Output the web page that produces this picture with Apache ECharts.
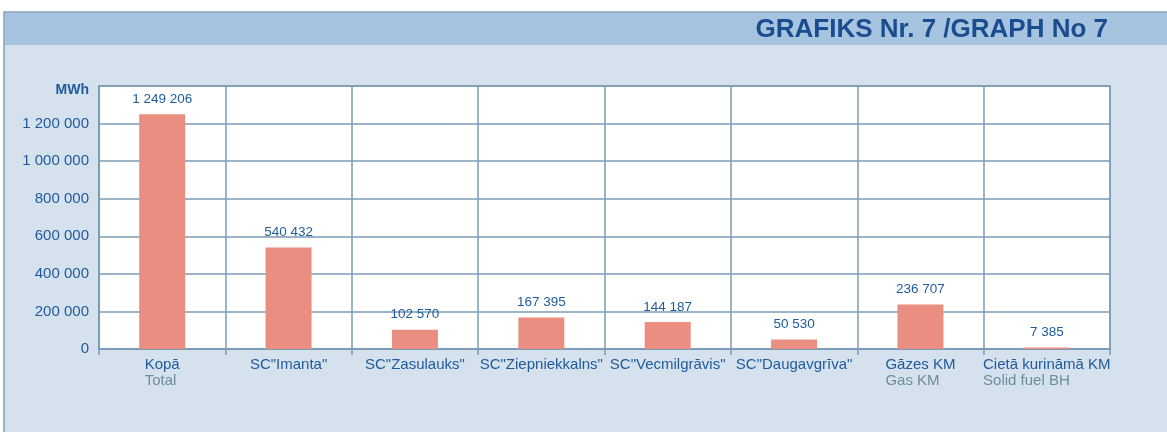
<!DOCTYPE html>
<html>
<head>
<meta charset="utf-8">
<script src="https://cdn.jsdelivr.net/npm/echarts@6/dist/echarts.min.js"></script>
<style>
    html, body {margin: 0; padding: 0; background: #fff;}
    #chart {width: 1167px; height: 432px;}
</style>
</head>
<body>
<div id="chart"></div>
<script>
// kategorijas (LV / EN)
var namesLv = ['Kopā', 'SC"Imanta"', 'SC"Zasulauks"', 'SC"Ziepniekkalns"', 'SC"Vecmilgrāvis"', 'SC"Daugavgrīva"', 'Gāzes KM', 'Cietā kurināmā KM'];
var namesEn = ['Total', '', '', '', '', '', 'Gas KM', 'Solid fuel BH'];
var valuesMWh = [1249206, 540432, 102570, 167395, 144187, 50530, 236707, 7385];
var yTicks = [0, 200000, 400000, 600000, 800000, 1000000, 1200000, 1400000];

var blue = '#1f5b9b';
var lineCol = '#7b9bb6';

var fmt = function (v) {
    return String(v).replace(/\B(?=(\d{3})+(?!\d))/g, ' ');
};

var chart = echarts.init(document.getElementById('chart'));

var option = {
    backgroundColor: '#fff',
    textStyle: {fontFamily: 'Liberation Sans, Arial, sans-serif'},
    graphic: [
        // panelis
        {type: 'rect', z: -10, shape: {x: 4, y: 12, width: 1170, height: 430},
            style: {fill: '#d6e1ee', stroke: '#7f9fb5', lineWidth: 1.5}},
        {type: 'rect', z: -9, shape: {x: 5, y: 13, width: 1170, height: 32},
            style: {fill: '#a6c4e0'}},
        {type: 'text', z: 5, right: 59, top: 17,
            style: {text: 'GRAFIKS Nr. 7 /GRAPH No 7', fill: '#1a4d8f',
                font: 'bold 26px "Liberation Sans", Arial, sans-serif'}}
    ],
    grid: {
        left: 99, right: 57, top: 86, bottom: 83,
        show: true, backgroundColor: '#fff', borderColor: lineCol, borderWidth: 1.5
    },
    xAxis: {
        type: 'category',
        data: namesLv,
        axisLine: {lineStyle: {color: lineCol, width: 1.5}},
        axisTick: {show: true, interval: 0, length: 6, lineStyle: {color: lineCol, width: 1.5}},
        splitLine: {show: true, interval: 0, lineStyle: {color: lineCol, width: 1.5}},
        axisLabel: {
            interval: 0, margin: 8,
            formatter: function (v, i) {
                var en = namesEn[i];
                return '{a|' + v + '}' + (en ? '\n{b|' + en + '}' : '\n{b| }');
            },
            rich: {
                a: {color: blue, fontSize: 15, lineHeight: 16, align: 'left'},
                b: {color: '#6e8d99', fontSize: 15, lineHeight: 16, align: 'left'}
            }
        }
    },
    yAxis: {
        type: 'value',
        min: yTicks[0], max: yTicks[yTicks.length - 1], interval: yTicks[1] - yTicks[0],
        axisLine: {show: true, lineStyle: {color: lineCol, width: 1.5}},
        axisTick: {show: false},
        splitLine: {lineStyle: {color: lineCol, width: 1.5}},
        axisLabel: {
            margin: 10, color: blue, fontSize: 15,
            formatter: function (v) {
                if (v === yTicks[yTicks.length - 1]) return '{u|MWh}';
                return fmt(v);
            },
            rich: {u: {color: blue, fontSize: 14, fontWeight: 'bold', padding: [8, 0, 0, 0]}}
        }
    },
    series: [{
        type: 'bar',
        data: valuesMWh,
        barWidth: 46,
        itemStyle: {color: '#e98e80'},
        label: {
            show: true, position: 'top', distance: 8,
            color: blue, fontSize: 13.5,
            formatter: function (p) { return fmt(p.value); }
        },
        animation: false
    }]
};
chart.setOption(option);
</script>
</body>
</html>
